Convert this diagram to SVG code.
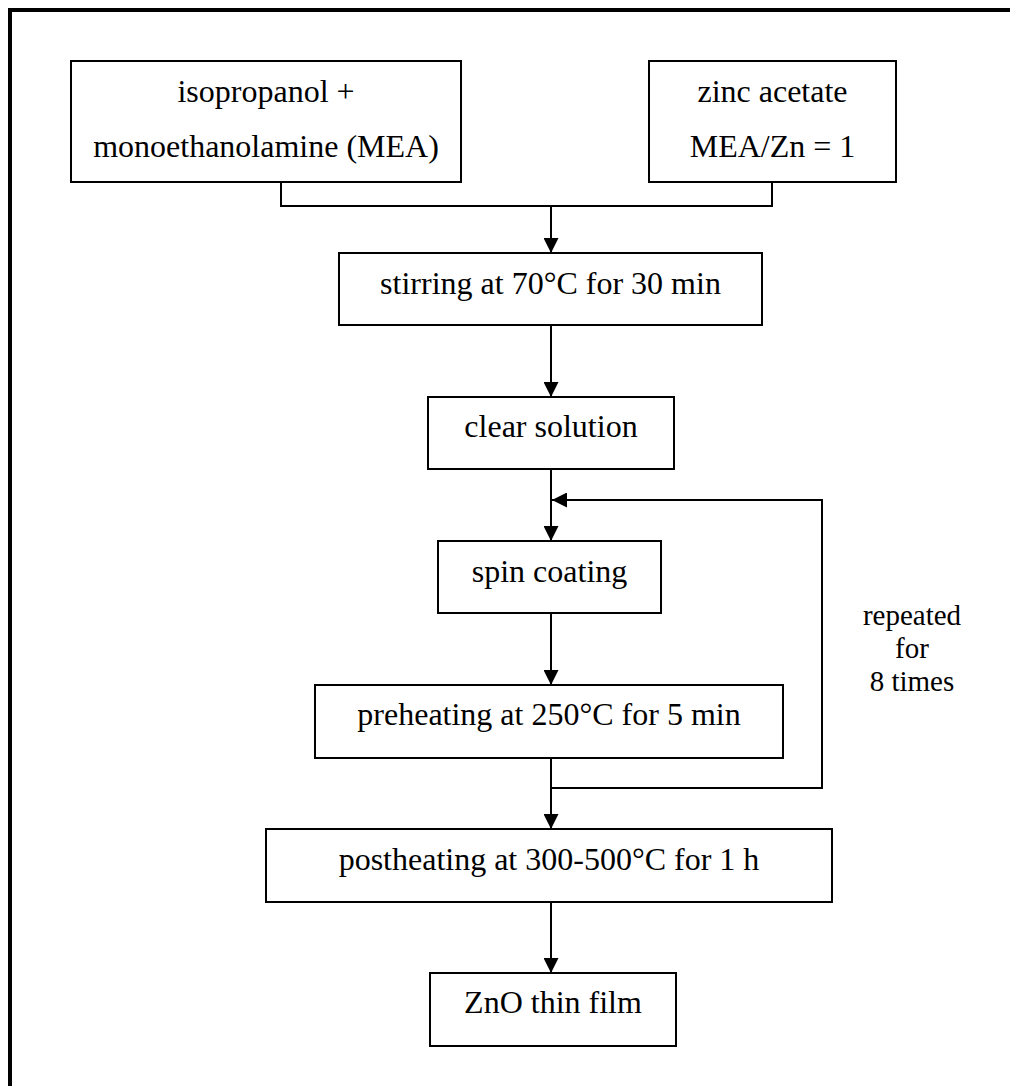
<svg xmlns="http://www.w3.org/2000/svg" width="1010" height="1086" viewBox="0 0 1010 1086">
<defs>
<style>
.box{fill:#fff;stroke:#000;stroke-width:2}
.t{font-family:"Liberation Serif","Times New Roman",serif;font-size:32px;fill:#000;text-anchor:middle}
.lbl{font-family:"Liberation Serif","Times New Roman",serif;font-size:29px;fill:#000;text-anchor:middle}
.ln{fill:none;stroke:#000;stroke-width:2}
</style>
<marker id="ah" viewBox="0 0 15 15" refX="15" refY="7.5" markerWidth="15" markerHeight="15" markerUnits="userSpaceOnUse" orient="auto">
<path d="M0,0 L15,7.5 L0,15 Z" fill="#000"/>
</marker>
</defs>
<rect width="1010" height="1086" fill="#fff"/>
<path d="M10,1090 V10 H1015" fill="none" stroke="#000" stroke-width="4"/>
<g id="connectors">
<path class="ln" d="M281,182 V206 H772 V182"/>
<path class="ln" d="M551,206 V253" marker-end="url(#ah)"/>
<path class="ln" d="M551,325 V397" marker-end="url(#ah)"/>
<path class="ln" d="M551,469 V541" marker-end="url(#ah)"/>
<path class="ln" d="M551,613 V685" marker-end="url(#ah)"/>
<path class="ln" d="M551,758 V829" marker-end="url(#ah)"/>
<path class="ln" d="M551,788 H822 V500 H552" marker-end="url(#ah)"/>
<path class="ln" d="M551,902 V973" marker-end="url(#ah)"/>
</g>
<g id="n1"><rect class="box" x="71" y="61" width="390" height="121"/><text class="t" x="266" y="102">isopropanol +</text><text class="t" x="266" y="157">monoethanolamine (MEA)</text></g>
<g id="n2"><rect class="box" x="649" y="61" width="247" height="121"/><text class="t" x="772.5" y="102">zinc acetate</text><text class="t" x="772.5" y="157">MEA/Zn = 1</text></g>
<g id="n3"><rect class="box" x="339" y="253" width="423" height="72"/><text class="t" x="550.5" y="294">stirring at 70°C for 30 min</text></g>
<g id="n4"><rect class="box" x="428" y="397" width="246" height="72"/><text class="t" x="551" y="437">clear solution</text></g>
<g id="n5"><rect class="box" x="438" y="541" width="223" height="72"/><text class="t" x="549.5" y="582">spin coating</text></g>
<g id="n6"><rect class="box" x="315" y="685" width="468" height="73"/><text class="t" x="549" y="725">preheating at 250°C for 5 min</text></g>
<g id="n7"><rect class="box" x="266" y="829" width="566" height="73"/><text class="t" x="549" y="870">postheating at 300-500°C for 1 h</text></g>
<g id="n8"><rect class="box" x="430" y="973" width="246" height="73"/><text class="t" x="553" y="1013">ZnO thin film</text></g>
<g id="label"><text class="lbl" x="912" y="625">repeated</text><text class="lbl" x="912" y="658">for</text><text class="lbl" x="912" y="691">8 times</text></g>
</svg>
